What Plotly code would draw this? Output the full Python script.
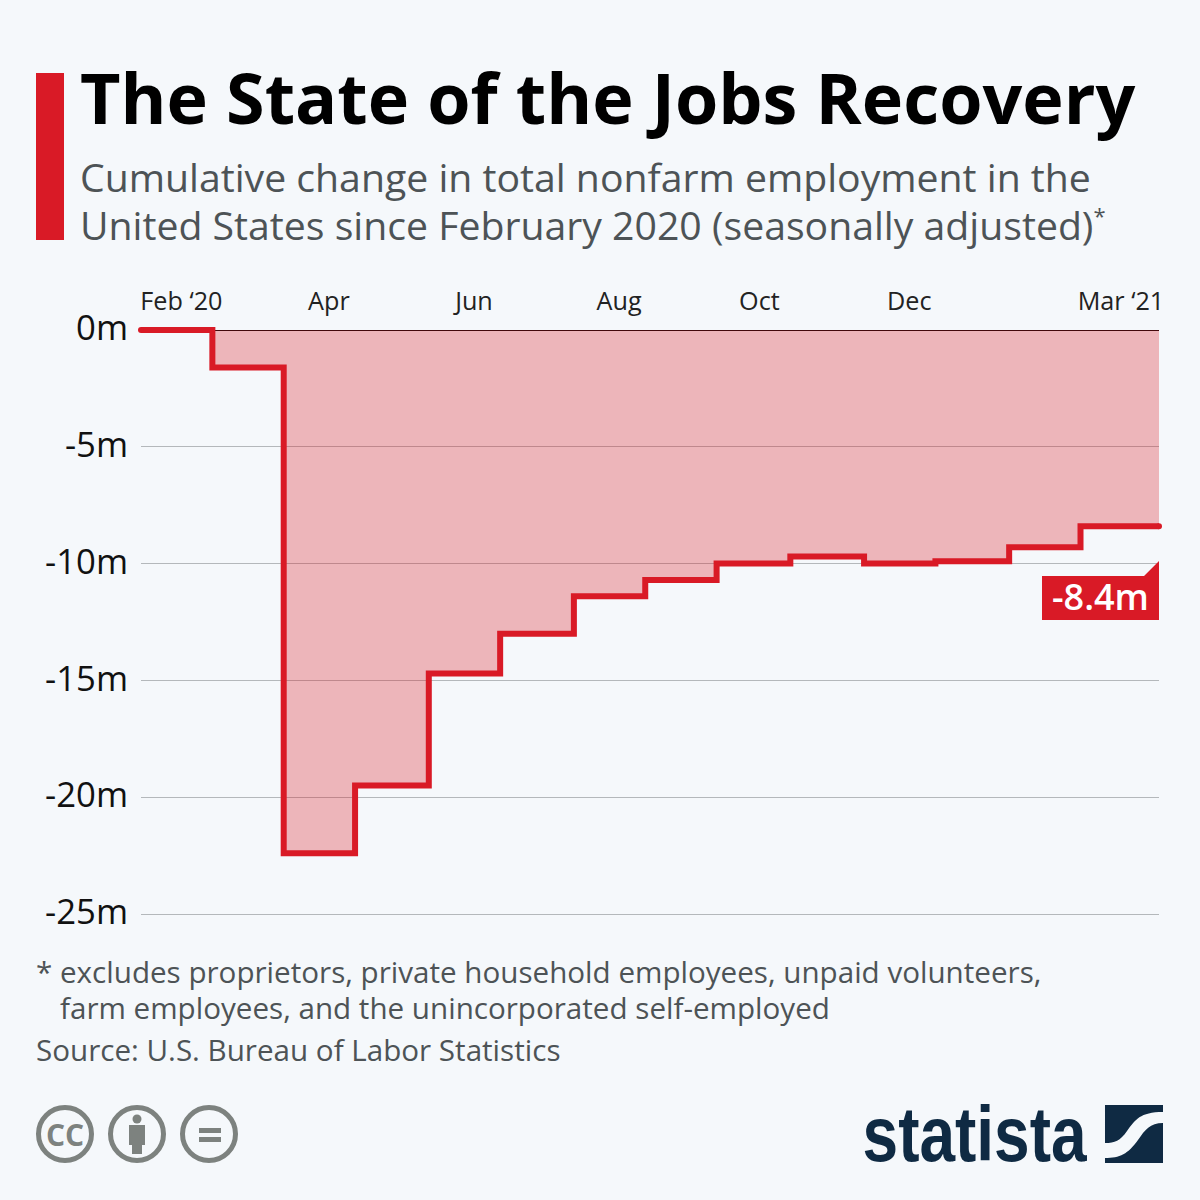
import plotly.graph_objects as go

# date each step starts (last entry only closes the final step)
step_dates = ['2020-02-01', '2020-03-02', '2020-04-01', '2020-05-01', '2020-06-01', '2020-07-01',
              '2020-08-01', '2020-08-31', '2020-09-30', '2020-10-31', '2020-12-01', '2020-12-31',
              '2021-01-31', '2021-03-02', '2021-04-04']
jobs_change = [0, -1.6, -22.4, -19.5, -14.7, -13.0, -11.4, -10.7, -10.0, -9.7, -10.0, -9.9, -9.3, -8.4, -8.4]

month_ticks = ['2020-02-18', '2020-04-20', '2020-06-20', '2020-08-20', '2020-10-18', '2020-12-20', '2021-03-19']
month_labels = ['Feb ‘20', 'Apr', 'Jun', 'Aug', 'Oct', 'Dec', 'Mar ‘21']
y_ticks = [0, -5, -10, -15, -20, -25]
y_labels = ['0m', '-5m', '-10m', '-15m', '-20m', '-25m']

RED = '#d91a26'
BG = '#f5f8fb'
GREY = '#7d827f'
NAVY = '#0f2a43'
FONT = 'Open Sans'
W = 1200
H = 1200
# plot area on the page, a little wider than 0..-25 so the line and the last gridline are not clipped
LEFT, RIGHT, TOP, BOTTOM = 141, 1159, 325, 918
Y_RANGE = [-25.171, 0.214]


def px(x):
    return (x - LEFT) / (RIGHT - LEFT)


def py(y):
    return (BOTTOM - y) / (BOTTOM - TOP)


def path(points):
    # points in page pixels -> svg path in paper coordinates
    out = ''
    for cmd, *coords in points:
        out += cmd
        out += ' '.join(f'{px(coords[i]):.5f},{py(coords[i + 1]):.5f}' for i in range(0, len(coords), 2))
        out += ' '
    return out + 'Z'


def text(x, y, s, size, color='#4d5356', weight=400, anchor='left', family=FONT):
    return dict(x=px(x), y=py(y), xref='paper', yref='paper', text=s,
                showarrow=False, xanchor=anchor, yanchor='middle', borderpad=0, borderwidth=0,
                font=dict(size=size, color=color, family=family, weight=weight))


def circle(cx, cy, r, fill=None, line=None, width=0):
    return dict(type='circle', xref='paper', yref='paper', x0=px(cx - r), x1=px(cx + r), y0=py(cy + r), y1=py(cy - r),
                fillcolor=fill or 'rgba(0,0,0,0)', line=dict(color=line or 'rgba(0,0,0,0)', width=width))


def rect(x0, y0, x1, y1, fill):
    return dict(type='rect', xref='paper', yref='paper', x0=px(x0), x1=px(x1), y0=py(y1), y1=py(y0),
                fillcolor=fill, line=dict(width=0))


def poly(points, fill):
    return dict(type='path', xref='paper', yref='paper', path=path(points), fillcolor=fill, line=dict(width=0))


fig = go.Figure()
fig.add_trace(go.Scatter(
    x=step_dates, y=jobs_change, mode='lines', line=dict(shape='hv', color=RED, width=6),
    fill='tozeroy', fillcolor='rgba(217,26,38,0.3)', cliponaxis=False, showlegend=False
))
# round caps at both ends of the line
fig.add_trace(go.Scatter(
    x=[step_dates[0], step_dates[-1]], y=[jobs_change[0], jobs_change[-1]], mode='markers',
    marker=dict(color=RED, size=6), cliponaxis=False, showlegend=False
))

shapes = [
    rect(36, 73, 64, 240, RED),
    # value flag
    poly([('M', 1042, 576), ('L', 1144, 576), ('L', 1159, 561), ('L', 1159, 620), ('L', 1042, 620)], RED),
    # cc icons
    circle(65, 1134, 26.5, line=GREY, width=5),
    circle(137, 1134, 26.5, line=GREY, width=5),
    circle(209, 1134, 26.5, line=GREY, width=5),
    circle(137, 1119, 4.5, fill=GREY),
    rect(129, 1125, 145, 1145, GREY),
    rect(132, 1145, 142, 1154, GREY),
    rect(199, 1128, 221, 1133, GREY),
    rect(199, 1137, 221, 1142, GREY),
    # statista mark
    poly([('M', 1105, 1105), ('L', 1163, 1105), ('L', 1163, 1112),
          ('C', 1140, 1112, 1135, 1120, 1127, 1131), ('C', 1120, 1141, 1115, 1143, 1105, 1143)], NAVY),
    poly([('M', 1163, 1123), ('C', 1150, 1123, 1145, 1130, 1138, 1140), ('C', 1128, 1154, 1120, 1158, 1105, 1158),
          ('L', 1105, 1163), ('L', 1163, 1163)], NAVY),
]

annotations = [
    text(80, 97, 'The State of the Jobs Recovery', 70, color='#000000', weight=700),
    text(80, 177, 'Cumulative change in total nonfarm employment in the', 39.2),
    text(80, 224, 'United States since February 2020 (seasonally adjusted)<sup><span style="font-size:22px">*</span></sup>', 39.2),
    text(36, 971, '* excludes proprietors, private household employees, unpaid volunteers,', 29.6),
    text(60, 1007, 'farm employees, and the unincorporated self-employed', 29.6),
    text(36, 1049, 'Source: U.S. Bureau of Labor Statistics', 29.6),
    text(1100, 596, f'{jobs_change[-1]}m', 36, color='#ffffff', anchor='center', weight=600),
    text(65, 1134, 'CC', 30, color=GREY, weight=700, anchor='center'),
    text(975, 1134, 'statista', 78, color=NAVY, weight=700, anchor='center', family='Liberation Sans'),
]

fig.update_layout(
    width=W,
    height=H,
    margin=dict(l=LEFT, r=W - RIGHT, t=TOP, b=H - BOTTOM, autoexpand=False),
    paper_bgcolor=BG,
    plot_bgcolor=BG,
    font=dict(family=FONT),
    showlegend=False,
    shapes=shapes,
    annotations=annotations,
    xaxis=dict(
        type='date', side='top', range=[step_dates[0], step_dates[-1]], tickmode='array',
        tickvals=month_ticks, ticktext=month_labels, showgrid=False, showline=False, zeroline=False,
        ticks='', ticklabelstandoff=9, tickfont=dict(size=25.2, color='#222222', family=FONT)
    ),
    yaxis=dict(
        range=Y_RANGE, tickmode='array', tickvals=y_ticks, ticktext=y_labels, showgrid=True,
        gridcolor='#b4b8bb', gridwidth=1, zeroline=True, zerolinecolor='#000000', zerolinewidth=1,
        showline=False, ticks='', ticklabelstandoff=12, ticklabelshift=-2,
        tickfont=dict(size=34.7, color='#111111', family=FONT)
    )
)

# the wordmark is a condensed face, squeeze the bold sans into its width
post = """
document.body.style.margin = '0';
document.body.style.background = '%s';
document.querySelectorAll('text.annotation-text').forEach(function (el) {
    if (el.textContent === 'statista') {
        el.setAttribute('textLength', '224');
        el.setAttribute('lengthAdjust', 'spacingAndGlyphs');
    }
});
""" % BG

fig.write_html("out.html", config=dict(displayModeBar=False), post_script=post)
